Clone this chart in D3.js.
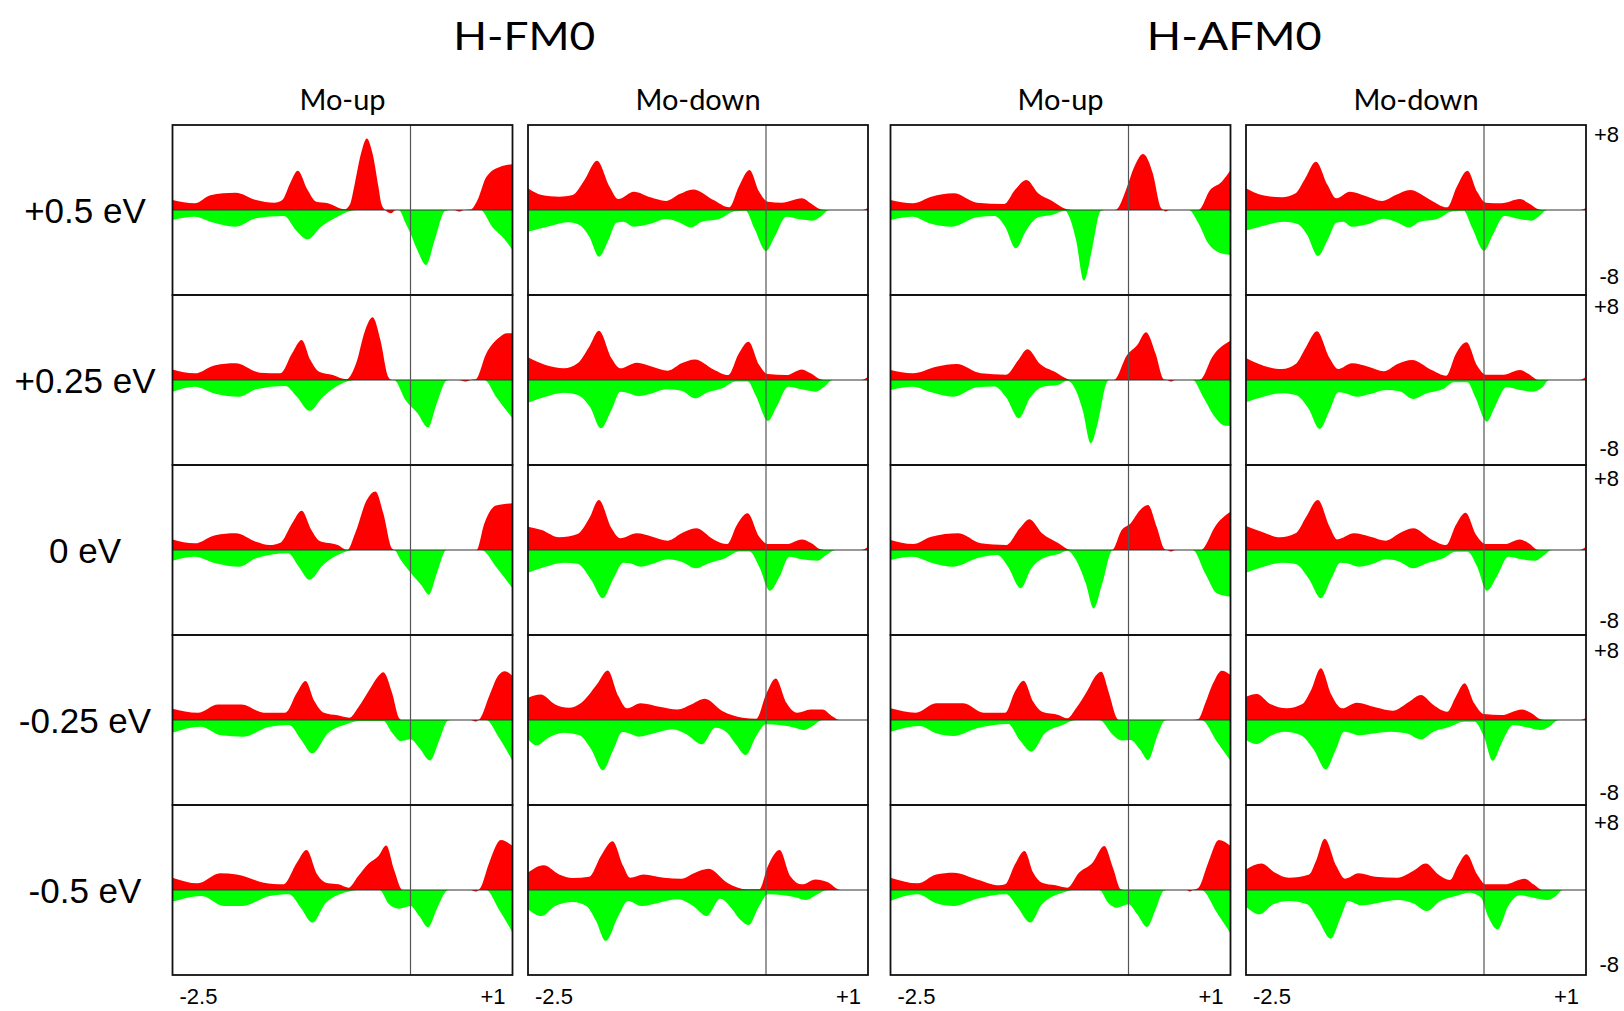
<!DOCTYPE html>
<html>
<head>
<meta charset="utf-8">
<script src="https://cdn.jsdelivr.net/npm/d3@7"></script>
<style>
  body { margin: 0; background: #fff; }
</style>
</head>
<body>
<script>
// Labels
const groupTitles = ["H-FM0", "H-AFM0"];
const columnLabels = ["Mo-up", "Mo-down", "Mo-up", "Mo-down"];
const rowLabels = ["+0.5 eV", "+0.25 eV", "0 eV", "-0.25 eV", "-0.5 eV"];
const xTickLabels = ["-2.5", "+1"];
const yTickLabels = ["+8", "-8"];

// [energy (eV), DOS]; up = red (spin up), dn = green (spin down)
// H-FM0, Mo-up
const fmUp_p050_up = [[-2.45,0.94],[-2.22,0.63],[-2.06,1.4],[-1.8,1.63],[-1.59,0.94],[-1.4,0.69],[-1.32,0.94],[-1.24,2.5],[-1.16,3.7],[-1.06,1.9],[-0.97,0.78],[-0.85,0.63],[-0.68,0.06],[-0.62,0.6],[-0.58,2.2],[-0.51,5.3],[-0.45,6.74],[-0.39,5.3],[-0.33,2.2],[-0.3,0.6],[-0.26,0],[-0.2,-0.3],[-0.15,0],[0.45,0],[0.5,-0.15],[0.55,0],[0.62,0.05],[0.69,0.94],[0.78,3.1],[0.93,4.1],[1.05,4.3]];
const fmUp_p050_dn = [[-2.45,-0.94],[-2.22,-0.63],[-2.06,-1.1],[-1.8,-1.57],[-1.59,-0.78],[-1.3,-0.56],[-1.18,-1.9],[-1.06,-2.76],[-0.92,-1.57],[-0.78,-0.78],[-0.61,-0.06],[-0.55,0],[-0.12,0],[-0.05,-1.25],[0.0,-2.2],[0.07,-3.76],[0.16,-5.17],[0.25,-2.8],[0.35,-0.15],[0.4,0],[0.72,0],[0.84,-1.57],[0.96,-2.67],[1.05,-3.76]];
const fmUp_p025_up = [[-2.45,1.0],[-2.22,0.63],[-2.01,1.4],[-1.8,1.57],[-1.55,0.69],[-1.34,0.63],[-1.22,2.5],[-1.12,3.76],[-1.03,1.88],[-0.94,0.78],[-0.8,0.47],[-0.66,0.06],[-0.56,1.57],[-0.47,4.6],[-0.39,5.9],[-0.31,3.76],[-0.23,0.31],[-0.19,0],[0.5,0],[0.56,-0.15],[0.62,0],[0.67,0.06],[0.78,2.5],[0.9,3.9],[0.99,4.4],[1.05,4.4]];
const fmUp_p025_dn = [[-2.45,-1.1],[-2.22,-0.63],[-2.01,-1.3],[-1.76,-1.57],[-1.59,-0.88],[-1.29,-0.56],[-1.17,-1.57],[-1.04,-2.9],[-0.9,-1.57],[-0.66,-0.16],[-0.56,0],[-0.17,0],[-0.05,-1.9],[0.07,-3.1],[0.18,-4.45],[0.27,-2.2],[0.37,-0.06],[0.4,0],[0.76,0],[0.88,-1.57],[1.05,-3.6]];
const fmUp_0_up = [[-2.45,1.0],[-2.22,0.63],[-2.01,1.4],[-1.8,1.57],[-1.59,0.78],[-1.45,0.47],[-1.34,0.69],[-1.22,2.5],[-1.12,3.7],[-1.02,1.88],[-0.94,0.88],[-0.75,0.47],[-0.65,0],[-0.57,1.57],[-0.45,4.7],[-0.36,5.5],[-0.28,3.45],[-0.19,0.15],[-0.16,0],[0.68,0],[0.76,2.5],[0.88,4.2],[1.05,4.4]];
const fmUp_0_dn = [[-2.45,-1.0],[-2.22,-0.63],[-2.01,-1.25],[-1.76,-1.57],[-1.59,-0.78],[-1.26,-0.31],[-1.15,-1.57],[-1.04,-2.8],[-0.9,-1.41],[-0.66,-0.15],[-0.6,0],[-0.17,0],[-0.1,-0.94],[0.02,-2.35],[0.11,-3.3],[0.19,-4.2],[0.27,-2.2],[0.37,0],[0.73,0],[0.88,-1.57],[1.05,-3.6]];
const fmUp_m025_up = [[-2.45,1.07],[-2.19,0.69],[-1.98,1.47],[-1.74,1.47],[-1.51,0.69],[-1.29,0.69],[-1.17,2.57],[-1.08,3.67],[-0.99,1.8],[-0.89,0.69],[-0.75,0.44],[-0.63,0.22],[-0.54,1.16],[-0.42,2.9],[-0.33,4.14],[-0.28,4.5],[-0.19,2.57],[-0.12,0.22],[-0.09,0],[0.62,0],[0.67,-0.15],[0.7,0],[0.72,0.2],[0.81,2.26],[0.9,4.14],[0.97,4.6],[1.05,4.14]];
const fmUp_m025_dn = [[-2.45,-1.19],[-2.16,-0.63],[-1.95,-1.44],[-1.72,-1.57],[-1.46,-0.66],[-1.25,-0.47],[-1.13,-1.8],[-1.01,-3.14],[-0.85,-1.25],[-0.66,-0.4],[-0.52,-0.1],[-0.28,-0.1],[-0.19,-1.19],[-0.1,-1.98],[0.0,-1.8],[0.09,-2.6],[0.2,-3.8],[0.3,-1.8],[0.38,-0.1],[0.42,0],[0.78,0],[0.9,-1.5],[1.05,-3.86]];
const fmUp_m050_up = [[-2.45,1.16],[-2.19,0.63],[-1.96,1.57],[-1.79,1.47],[-1.51,0.69],[-1.31,0.53],[-1.17,2.57],[-1.07,3.76],[-0.96,1.47],[-0.85,0.63],[-0.74,0.53],[-0.64,0.22],[-0.54,1.3],[-0.43,2.5],[-0.33,3.2],[-0.25,4.2],[-0.17,1.94],[-0.08,0],[0.62,0],[0.67,-0.15],[0.7,0],[0.72,0.22],[0.81,2.57],[0.93,4.7],[1.05,4.14]];
const fmUp_m050_dn = [[-2.45,-1.1],[-2.15,-0.56],[-1.92,-1.5],[-1.73,-1.5],[-1.45,-0.56],[-1.25,-0.4],[-1.13,-1.66],[-1.01,-3.07],[-0.87,-1.19],[-0.61,-0.1],[-0.55,0],[-0.32,0],[-0.22,-1.35],[-0.12,-1.76],[0.0,-1.5],[0.09,-2.45],[0.18,-3.5],[0.27,-1.8],[0.37,-0.1],[0.4,0],[0.78,0],[0.9,-1.66],[1.05,-4.0]];

// H-FM0, Mo-down
const fmDn_p050_up = [[-2.45,2.04],[-2.31,1.41],[-2.13,1.25],[-1.99,1.41],[-1.87,2.8],[-1.74,4.64],[-1.61,2.2],[-1.52,1.03],[-1.36,1.72],[-1.19,1.19],[-1.03,0.85],[-0.89,1.5],[-0.75,1.94],[-0.54,0.94],[-0.38,0.25],[-0.28,2.2],[-0.17,3.76],[-0.07,1.72],[0.02,0.78],[0.16,0.69],[0.37,1.1],[0.46,0.63],[0.56,0.06],[0.6,0],[0.98,0],[1.05,0.2]];
const fmDn_p050_dn = [[-2.45,-2.04],[-2.22,-1.5],[-2.03,-1.16],[-1.92,-1.41],[-1.82,-2.5],[-1.72,-4.39],[-1.62,-2.8],[-1.54,-1.19],[-1.47,-1.1],[-1.36,-1.57],[-1.19,-1.3],[-1.03,-0.85],[-0.91,-1.1],[-0.77,-1.63],[-0.66,-1.1],[-0.49,-0.88],[-0.33,-0.15],[-0.21,-0.06],[-0.12,-1.72],[0.0,-3.86],[0.09,-2.5],[0.21,-0.63],[0.35,-0.88],[0.48,-1.0],[0.56,-0.63],[0.65,0],[1.05,0]];
const fmDn_p025_up = [[-2.45,2.13],[-2.27,1.41],[-2.08,1.1],[-1.94,1.57],[-1.82,3.14],[-1.72,4.64],[-1.59,2.04],[-1.5,1.1],[-1.33,1.63],[-1.17,1.25],[-1.01,0.88],[-0.87,1.57],[-0.73,1.94],[-0.54,1.0],[-0.39,0.47],[-0.28,2.5],[-0.18,3.6],[-0.07,1.41],[0.02,0.56],[0.21,0.47],[0.37,1.0],[0.46,0.63],[0.56,0.06],[0.6,0],[0.98,0],[1.05,0.3]];
const fmDn_p025_dn = [[-2.45,-2.13],[-2.27,-1.57],[-2.08,-1.19],[-1.94,-1.41],[-1.81,-2.57],[-1.7,-4.55],[-1.59,-2.8],[-1.5,-1.1],[-1.43,-1.19],[-1.31,-1.5],[-1.17,-1.25],[-1.03,-0.88],[-0.87,-1.0],[-0.73,-1.72],[-0.61,-1.19],[-0.45,-0.78],[-0.31,-0.15],[-0.19,-0.15],[-0.1,-1.57],[0.02,-3.86],[0.11,-2.5],[0.23,-0.63],[0.37,-0.88],[0.51,-1.1],[0.6,-0.63],[0.69,0],[1.05,0]];
const fmDn_0_up = [[-2.45,2.2],[-2.31,1.88],[-2.13,1.19],[-1.94,1.5],[-1.82,2.98],[-1.72,4.7],[-1.59,2.04],[-1.5,1.1],[-1.33,1.57],[-1.17,1.25],[-1.01,0.88],[-0.87,1.57],[-0.72,2.04],[-0.54,1.0],[-0.4,0.56],[-0.3,2.35],[-0.19,3.45],[-0.07,1.25],[0.02,0.56],[0.21,0.56],[0.37,1.0],[0.46,0.69],[0.56,0.06],[0.6,0],[0.98,0],[1.05,0.3]];
const fmDn_0_dn = [[-2.45,-2.13],[-2.27,-1.57],[-2.08,-1.19],[-1.94,-1.3],[-1.8,-2.8],[-1.68,-4.55],[-1.57,-2.67],[-1.47,-1.19],[-1.4,-1.25],[-1.29,-1.57],[-1.15,-1.25],[-1.01,-0.88],[-0.87,-1.1],[-0.72,-1.72],[-0.59,-1.25],[-0.42,-0.78],[-0.28,-0.15],[-0.17,-0.15],[-0.07,-1.57],[0.04,-3.83],[0.14,-2.5],[0.24,-0.63],[0.37,-0.88],[0.53,-1.0],[0.62,-0.47],[0.72,0],[1.05,0]];
const fmDn_m025_up = [[-2.45,2.1],[-2.32,2.4],[-2.17,1.47],[-2.03,1.16],[-1.9,1.63],[-1.74,3.36],[-1.63,4.67],[-1.52,2.26],[-1.43,1.1],[-1.29,1.57],[-1.1,1.25],[-0.91,1.0],[-0.77,1.47],[-0.63,2.0],[-0.45,0.85],[-0.24,0.22],[-0.1,0.12],[0.0,2.4],[0.1,3.9],[0.21,1.63],[0.32,0.69],[0.46,1.0],[0.58,1.0],[0.69,0.31],[0.76,0],[1.05,0]];
const fmDn_m025_dn = [[-2.45,-1.8],[-2.36,-2.38],[-2.24,-1.66],[-2.08,-1.19],[-1.92,-1.44],[-1.8,-2.76],[-1.68,-4.73],[-1.57,-2.76],[-1.48,-1.13],[-1.41,-1.25],[-1.31,-1.57],[-1.15,-1.25],[-0.96,-0.88],[-0.82,-1.35],[-0.66,-2.29],[-0.52,-0.72],[-0.4,-1.19],[-0.31,-2.29],[-0.21,-3.3],[-0.1,-1.5],[0.0,-0.4],[0.16,-0.5],[0.3,-0.72],[0.39,-0.94],[0.48,-0.56],[0.58,0],[1.05,0]];
const fmDn_m050_up = [[-2.45,1.63],[-2.29,2.32],[-2.13,1.47],[-1.99,1.13],[-1.82,1.25],[-1.7,3.2],[-1.58,4.6],[-1.47,2.26],[-1.4,1.16],[-1.26,1.47],[-1.05,1.16],[-0.87,1.07],[-0.73,1.63],[-0.59,2.0],[-0.4,0.69],[-0.19,0.06],[-0.07,0.06],[0.02,2.26],[0.14,3.76],[0.25,1.3],[0.37,0.53],[0.51,1.0],[0.63,0.75],[0.77,0],[1.05,0]];
const fmDn_m050_dn = [[-2.45,-1.8],[-2.31,-2.45],[-2.17,-1.5],[-1.99,-1.13],[-1.85,-1.5],[-1.75,-2.9],[-1.65,-4.8],[-1.52,-2.45],[-1.42,-1.03],[-1.28,-1.5],[-1.1,-1.19],[-0.91,-0.88],[-0.75,-1.5],[-0.61,-2.45],[-0.47,-0.82],[-0.36,-1.66],[-0.27,-2.76],[-0.18,-3.3],[-0.07,-1.5],[0.02,-0.4],[0.18,-0.5],[0.32,-0.72],[0.41,-0.94],[0.53,-0.4],[0.63,0],[1.05,0]];

// H-AFM0, Mo-up
const afUp_p050_up = [[-2.45,0.94],[-2.22,0.63],[-2.03,1.25],[-1.8,1.57],[-1.56,0.69],[-1.28,0.56],[-1.17,1.88],[-1.05,2.82],[-0.93,1.57],[-0.79,0.88],[-0.63,0.06],[-0.58,0],[-0.14,0],[-0.12,0.06],[-0.02,2.04],[0.06,4.08],[0.15,5.27],[0.25,3.45],[0.33,0.25],[0.36,0],[0.38,-0.15],[0.42,0],[0.72,0],[0.84,1.88],[0.96,2.67],[1.05,3.76]];
const afUp_p050_dn = [[-2.45,-0.94],[-2.22,-0.63],[-2.05,-1.25],[-1.82,-1.57],[-1.56,-0.69],[-1.38,-0.56],[-1.27,-1.57],[-1.16,-3.6],[-1.05,-1.88],[-0.93,-0.69],[-0.79,-0.47],[-0.65,-0.06],[-0.61,-0.63],[-0.54,-2.82],[-0.46,-6.65],[-0.37,-3.45],[-0.29,-0.15],[-0.25,0],[0.62,0],[0.72,-1.25],[0.82,-3.14],[0.93,-4.0],[1.05,-4.23]];
const afUp_p025_up = [[-2.45,0.94],[-2.22,0.63],[-1.98,1.25],[-1.77,1.5],[-1.52,0.63],[-1.26,0.5],[-1.14,1.82],[-1.04,2.9],[-0.91,1.5],[-0.75,0.72],[-0.63,0.1],[-0.58,0],[-0.16,0],[-0.14,0.05],[-0.02,2.29],[0.09,3.3],[0.18,4.5],[0.28,2.45],[0.36,0.1],[0.4,0],[0.44,-0.15],[0.48,0],[0.72,0],[0.75,0.1],[0.86,2.13],[1.05,3.7]];
const afUp_p025_dn = [[-2.45,-0.94],[-2.22,-0.63],[-2.03,-1.16],[-1.8,-1.57],[-1.56,-0.69],[-1.38,-0.6],[-1.26,-1.63],[-1.13,-3.6],[-1.01,-1.63],[-0.88,-0.63],[-0.72,-0.44],[-0.63,-0.06],[-0.54,-1.0],[-0.47,-2.9],[-0.39,-5.96],[-0.31,-3.8],[-0.23,-0.38],[-0.2,0],[0.66,0],[0.77,-1.63],[0.89,-3.5],[1.0,-4.3],[1.05,-4.3]];
const afUp_0_up = [[-2.45,0.94],[-2.22,0.56],[-2.03,1.25],[-1.75,1.57],[-1.52,0.63],[-1.26,0.47],[-1.12,2.04],[-1.02,2.9],[-0.89,1.57],[-0.72,0.63],[-0.63,0.1],[-0.58,0],[-0.17,0],[-0.07,1.88],[0.02,2.5],[0.12,3.76],[0.2,4.23],[0.29,2.2],[0.37,0.1],[0.4,0],[0.44,-0.15],[0.48,0],[0.75,0],[0.77,0.15],[0.89,2.2],[1.05,3.6]];
const afUp_0_dn = [[-2.45,-0.94],[-2.22,-0.63],[-2.03,-1.19],[-1.8,-1.57],[-1.56,-0.78],[-1.35,-0.47],[-1.24,-1.57],[-1.11,-3.6],[-1.0,-1.72],[-0.88,-0.78],[-0.72,-0.38],[-0.63,-0.06],[-0.54,-0.94],[-0.44,-3.14],[-0.36,-5.5],[-0.27,-3.14],[-0.17,-0.06],[-0.14,0],[0.66,0],[0.79,-2.2],[0.91,-4.08],[1.05,-4.4]];
const afUp_m025_up = [[-2.45,1.1],[-2.19,0.69],[-1.98,1.57],[-1.7,1.57],[-1.49,0.69],[-1.27,0.69],[-1.17,2.67],[-1.08,3.7],[-0.98,1.72],[-0.89,0.78],[-0.72,0.47],[-0.63,0.16],[-0.54,1.1],[-0.42,2.82],[-0.34,4.14],[-0.28,4.55],[-0.2,2.5],[-0.12,0.16],[-0.1,0],[0.66,0],[0.72,0.1],[0.79,1.57],[0.87,3.45],[0.96,4.64],[1.05,4.23]];
const afUp_m025_dn = [[-2.45,-1.1],[-2.15,-0.56],[-1.98,-1.25],[-1.8,-1.5],[-1.56,-0.78],[-1.24,-0.38],[-1.12,-1.88],[-1.0,-2.98],[-0.86,-1.25],[-0.68,-0.47],[-0.58,-0.06],[-0.54,0],[-0.3,0],[-0.16,-1.41],[-0.07,-1.94],[0.02,-1.88],[0.12,-2.8],[0.2,-3.76],[0.3,-1.41],[0.37,-0.06],[0.4,0],[0.75,0],[0.91,-2.04],[1.05,-3.83]];
const afUp_m050_up = [[-2.45,1.16],[-2.17,0.63],[-1.98,1.47],[-1.8,1.63],[-1.56,1.0],[-1.33,0.44],[-1.27,0.53],[-1.17,2.4],[-1.07,3.67],[-0.98,1.63],[-0.89,0.69],[-0.75,0.44],[-0.63,0.22],[-0.51,1.63],[-0.37,2.57],[-0.25,4.14],[-0.16,2.1],[-0.08,0.06],[-0.05,0],[0.6,0],[0.63,-0.15],[0.66,0],[0.72,0.22],[0.82,2.57],[0.93,4.7],[1.05,4.14]];
const afUp_m050_dn = [[-2.45,-1.03],[-2.17,-0.41],[-1.98,-1.25],[-1.8,-1.5],[-1.56,-0.82],[-1.26,-0.41],[-1.15,-1.5],[-1.01,-3.07],[-0.89,-1.35],[-0.63,-0.12],[-0.58,0],[-0.3,0],[-0.21,-1.19],[-0.12,-1.66],[0.0,-1.35],[0.09,-2.29],[0.19,-3.48],[0.28,-1.82],[0.36,-0.1],[0.4,0],[0.75,0],[0.91,-2.13],[1.05,-4.08]];

// H-AFM0, Mo-down
const afDn_p050_up = [[-2.45,2.04],[-2.29,1.41],[-2.08,1.19],[-1.94,1.57],[-1.85,2.82],[-1.73,4.55],[-1.61,2.35],[-1.52,1.1],[-1.38,1.72],[-1.22,1.32],[-1.05,0.85],[-0.91,1.41],[-0.76,1.88],[-0.56,1.0],[-0.38,0.25],[-0.28,2.2],[-0.17,3.7],[-0.07,1.72],[0.02,0.69],[0.18,0.63],[0.37,1.03],[0.46,0.63],[0.56,0.06],[0.6,0],[0.98,0],[1.05,0.2]];
const afDn_p050_dn = [[-2.45,-1.94],[-2.24,-1.41],[-2.06,-1.1],[-1.92,-1.32],[-1.82,-2.35],[-1.71,-4.33],[-1.61,-2.82],[-1.52,-1.19],[-1.45,-1.1],[-1.36,-1.57],[-1.19,-1.32],[-1.03,-0.82],[-0.91,-1.1],[-0.77,-1.63],[-0.66,-1.1],[-0.49,-0.88],[-0.33,-0.15],[-0.21,-0.06],[-0.12,-1.72],[0.0,-3.83],[0.09,-2.35],[0.21,-0.56],[0.35,-0.82],[0.49,-1.0],[0.56,-0.63],[0.65,0],[1.05,0]];
const afDn_p025_up = [[-2.45,2.07],[-2.27,1.35],[-2.08,1.03],[-1.94,1.5],[-1.83,3.14],[-1.72,4.58],[-1.59,2.07],[-1.5,1.03],[-1.36,1.57],[-1.19,1.25],[-1.03,0.82],[-0.89,1.5],[-0.74,1.88],[-0.54,0.94],[-0.39,0.41],[-0.29,2.45],[-0.18,3.55],[-0.07,1.35],[0.02,0.5],[0.2,0.5],[0.37,0.94],[0.46,0.56],[0.56,0],[0.98,0],[1.05,0.3]];
const afDn_p025_dn = [[-2.45,-2.1],[-2.27,-1.57],[-2.08,-1.25],[-1.94,-1.41],[-1.81,-2.63],[-1.69,-4.6],[-1.59,-2.88],[-1.5,-1.16],[-1.43,-1.25],[-1.31,-1.57],[-1.17,-1.32],[-1.01,-0.94],[-0.87,-1.07],[-0.73,-1.79],[-0.59,-1.25],[-0.42,-0.85],[-0.31,-0.22],[-0.17,-0.22],[-0.09,-1.63],[0.03,-3.92],[0.11,-2.57],[0.23,-0.69],[0.37,-0.94],[0.51,-1.1],[0.6,-0.69],[0.67,0],[1.05,0]];
const afDn_0_up = [[-2.45,2.26],[-2.29,1.72],[-2.1,1.19],[-1.94,1.57],[-1.83,3.14],[-1.71,4.7],[-1.59,2.2],[-1.51,1.0],[-1.34,1.57],[-1.17,1.25],[-1.01,0.88],[-0.87,1.57],[-0.73,2.04],[-0.54,1.0],[-0.39,0.47],[-0.29,2.35],[-0.19,3.5],[-0.08,1.41],[0.02,0.56],[0.21,0.56],[0.37,1.0],[0.46,0.63],[0.56,0],[0.98,0],[1.05,0.3]];
const afDn_0_dn = [[-2.45,-2.13],[-2.27,-1.57],[-2.08,-1.19],[-1.94,-1.32],[-1.8,-2.76],[-1.68,-4.55],[-1.57,-2.67],[-1.48,-1.19],[-1.41,-1.25],[-1.29,-1.57],[-1.15,-1.32],[-1.01,-0.88],[-0.87,-1.1],[-0.73,-1.72],[-0.59,-1.25],[-0.42,-0.78],[-0.29,-0.16],[-0.17,-0.16],[-0.07,-1.57],[0.03,-3.83],[0.14,-2.35],[0.25,-0.63],[0.39,-0.88],[0.53,-1.0],[0.62,-0.47],[0.7,0],[1.05,0]];
const afDn_m025_up = [[-2.45,2.2],[-2.34,2.45],[-2.2,1.5],[-2.03,1.1],[-1.87,1.5],[-1.78,2.82],[-1.68,4.86],[-1.57,2.35],[-1.46,1.1],[-1.31,1.63],[-1.12,1.19],[-0.94,0.88],[-0.77,1.72],[-0.65,2.35],[-0.52,1.41],[-0.38,0.78],[-0.29,2.2],[-0.2,3.45],[-0.1,1.57],[0.0,0.56],[0.18,0.47],[0.39,1.0],[0.49,0.63],[0.58,0.06],[0.62,0],[0.98,0],[1.05,0.2]];
const afDn_m025_dn = [[-2.45,-1.88],[-2.34,-2.26],[-2.2,-1.5],[-2.06,-1.1],[-1.89,-1.41],[-1.75,-2.82],[-1.63,-4.64],[-1.52,-2.67],[-1.44,-1.1],[-1.38,-1.19],[-1.29,-1.44],[-1.12,-1.25],[-0.96,-1.1],[-0.8,-1.25],[-0.65,-1.82],[-0.52,-1.1],[-0.35,-0.63],[-0.21,-0.16],[-0.1,-0.16],[0.0,-1.57],[0.09,-3.83],[0.18,-2.2],[0.3,-0.47],[0.44,-0.69],[0.58,-0.94],[0.67,-0.63],[0.77,0],[1.05,0]];
const afDn_m050_up = [[-2.45,1.94],[-2.29,2.5],[-2.15,1.63],[-2.01,1.16],[-1.8,1.47],[-1.73,2.73],[-1.64,4.83],[-1.52,2.26],[-1.43,1.07],[-1.29,1.57],[-1.12,1.25],[-0.89,1.16],[-0.73,1.79],[-0.6,2.5],[-0.47,1.47],[-0.35,0.94],[-0.27,2.26],[-0.18,3.36],[-0.07,1.47],[0.02,0.53],[0.21,0.53],[0.42,1.07],[0.51,0.53],[0.6,0],[1.05,0]];
const afDn_m050_dn = [[-2.45,-1.57],[-2.31,-2.29],[-2.17,-1.35],[-2.01,-1.03],[-1.82,-1.35],[-1.71,-2.76],[-1.58,-4.58],[-1.47,-2.45],[-1.4,-1.03],[-1.26,-1.44],[-1.08,-1.19],[-0.89,-0.94],[-0.73,-1.25],[-0.59,-1.98],[-0.45,-1.03],[-0.29,-0.56],[-0.15,-0.25],[-0.03,-0.72],[0.04,-2.45],[0.14,-3.7],[0.25,-1.5],[0.37,-0.5],[0.51,-0.72],[0.65,-0.94],[0.74,-0.56],[0.81,0],[1.05,0]];

// panels[column][row] built from the arrays above
const panels = [
  [[fmUp_p050_up, fmUp_p050_dn], [fmUp_p025_up, fmUp_p025_dn], [fmUp_0_up, fmUp_0_dn], [fmUp_m025_up, fmUp_m025_dn], [fmUp_m050_up, fmUp_m050_dn]],
  [[fmDn_p050_up, fmDn_p050_dn], [fmDn_p025_up, fmDn_p025_dn], [fmDn_0_up, fmDn_0_dn], [fmDn_m025_up, fmDn_m025_dn], [fmDn_m050_up, fmDn_m050_dn]],
  [[afUp_p050_up, afUp_p050_dn], [afUp_p025_up, afUp_p025_dn], [afUp_0_up, afUp_0_dn], [afUp_m025_up, afUp_m025_dn], [afUp_m050_up, afUp_m050_dn]],
  [[afDn_p050_up, afDn_p050_dn], [afDn_p025_up, afDn_p025_dn], [afDn_0_up, afDn_0_dn], [afDn_m025_up, afDn_m025_dn], [afDn_m050_up, afDn_m050_dn]]
];

// Layout
const W = 1624, H = 1011;
const colLeft = [172.5, 528, 890.5, 1246];
const panelW = 340, panelH = 170, top0 = 125;

const svg = d3.select("body").append("svg")
  .attr("width", W)
  .attr("height", H);

const x = d3.scaleLinear().domain([-2.45, 1.05]).range([0, panelW]);
const y = d3.scaleLinear().domain([-8, 8]).range([panelH, 0]);

const area = d3.area()
  .x(d => x(d[0]))
  .y0(y(0))
  .y1(d => y(d[1]))
  .curve(d3.curveMonotoneX);

panels.forEach((col, c) => {
  col.forEach((series, r) => {
    const g = svg.append("g")
      .attr("transform", `translate(${colLeft[c]},${top0 + r * panelH})`);

    g.append("path").datum(series[0]).attr("d", area).attr("fill", "#ff0000");
    g.append("path").datum(series[1]).attr("d", area).attr("fill", "#00ff00");

    // zero line and Fermi level
    g.append("line")
      .attr("x1", 0).attr("x2", panelW)
      .attr("y1", y(0)).attr("y2", y(0))
      .attr("stroke", "#333").attr("stroke-width", 1.2);
    g.append("line")
      .attr("x1", x(0)).attr("x2", x(0))
      .attr("y1", 0).attr("y2", panelH)
      .attr("stroke", "#555").attr("stroke-width", 1.2);

    g.append("rect")
      .attr("width", panelW).attr("height", panelH)
      .attr("fill", "none").attr("stroke", "#111").attr("stroke-width", 1.8);
  });

  // column header
  svg.append("text")
    .attr("x", colLeft[c] + panelW / 2)
    .attr("y", 110)
    .attr("text-anchor", "middle")
    .attr("font-family", "Lato, 'Open Sans', sans-serif")
    .attr("font-size", 29)
    .text(columnLabels[c]);

  // x tick labels under the bottom row
  const bottom = top0 + 5 * panelH;
  svg.append("text")
    .attr("x", colLeft[c] + x.range()[0] + 7)
    .attr("y", bottom + 29)
    .attr("font-family", "'Liberation Sans', Arial, sans-serif")
    .attr("font-size", 22)
    .text(xTickLabels[0]);
  svg.append("text")
    .attr("x", colLeft[c] + x.range()[1] - 7)
    .attr("y", bottom + 29)
    .attr("text-anchor", "end")
    .attr("font-family", "'Liberation Sans', Arial, sans-serif")
    .attr("font-size", 22)
    .text(xTickLabels[1]);
});

// group titles (wide lettering, as in the original)
const titleShift = [4, -4];
const titleWidth = [142, 175];
groupTitles.forEach((t, i) => {
  const left = colLeft[i * 2], right = colLeft[i * 2 + 1] + panelW;
  svg.append("text")
    .attr("x", (left + right) / 2 + titleShift[i])
    .attr("y", 50)
    .attr("text-anchor", "middle")
    .attr("font-family", "Lato, 'Open Sans', sans-serif")
    .attr("font-size", 39)
    .attr("textLength", titleWidth[i])
    .attr("lengthAdjust", "spacingAndGlyphs")
    .text(t);
});

// row labels
rowLabels.forEach((t, r) => {
  svg.append("text")
    .attr("x", 85)
    .attr("y", top0 + r * panelH + y(0))
    .attr("dy", "0.36em")
    .attr("text-anchor", "middle")
    .attr("font-family", "'Liberation Sans', Arial, sans-serif")
    .attr("font-size", 35)
    .text(t);
});

// y limits at the right of the last column (their spacing is a little wider than the rows)
const limStep = 172;
d3.range(5).forEach(r => {
  svg.append("text")
    .attr("x", 1619).attr("y", 134 + r * limStep)
    .attr("dy", "0.36em")
    .attr("text-anchor", "end")
    .attr("font-family", "'Liberation Sans', Arial, sans-serif")
    .attr("font-size", 22)
    .text(yTickLabels[0]);
  svg.append("text")
    .attr("x", 1619).attr("y", 276 + r * limStep)
    .attr("dy", "0.36em")
    .attr("text-anchor", "end")
    .attr("font-family", "'Liberation Sans', Arial, sans-serif")
    .attr("font-size", 22)
    .text(yTickLabels[1]);
});
</script>
</body>
</html>
